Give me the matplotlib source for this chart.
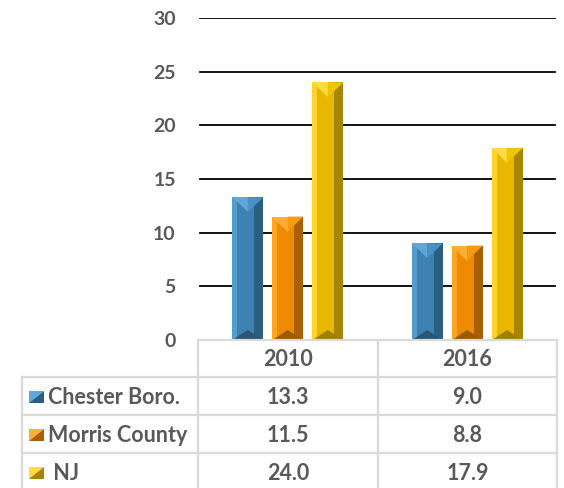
import numpy as np
import matplotlib
matplotlib.use('Agg')
from matplotlib import pyplot as plt
from matplotlib.patches import Polygon

#%% Data
years = ['2010', '2016']
series = ['Chester Boro.', 'Morris County', ' NJ']
chester = [13.3, 9.0]
morris = [11.5, 8.8]
nj = [24.0, 17.9]
yticks = [0, 5, 10, 15, 20, 25, 30]

#%% Style
# (main, left light, right dark, top-left, top-right, bottom)
PAL = [('#3d80b2', '#559cca', '#2b5e83', '#5ea7d8', '#4a90c2', '#2a5675'),
       ('#ee8b02', '#ffa521', '#a95f02', '#ffae35', '#f69b12', '#9c5a06'),
       ('#e8b700', '#ffd42b', '#a88500', '#ffda40', '#f1c500', '#a07f00')]
TXT = '#595959'
LINE = '#d9d9d9'
FONT = ['Lato', 'DejaVu Sans']
plt.rcParams['font.family'] = FONT

W, H = 564, 488
fig = plt.figure(figsize=(W / 100, H / 100), dpi=100)

# plot area in pixels
AX_L, AX_R, AX_B, AX_T = 198, 557, 340, 18
ax = fig.add_axes([AX_L / W, 1 - AX_B / H, (AX_R - AX_L) / W, (AX_B - AX_T) / H])
ax.set_xlim(-0.5, 1.5)
ax.set_ylim(0, 30)
for s in ax.spines.values():
    s.set_visible(False)
ax.set_xticks([])
ax.set_yticks(yticks)
ax.set_yticklabels([str(t) for t in yticks], fontsize=14, fontweight='bold', color=TXT)
ax.tick_params(axis='y', length=0, pad=16)
for t in yticks[1:]:
    ax.axhline(t, xmin=0.006, xmax=0.994, color='black', lw=1.3, zorder=1)

# px -> data factors
px_x = 2.0 / (AX_R - AX_L)
px_y = 30.0 / (AX_B - AX_T)

x = np.arange(len(years))
bw = 31 * px_x
off = 40 * px_x
for i, vals in enumerate([chester, morris, nj]):
    c = PAL[i]
    bars = ax.bar(x + (i - 1) * off, vals, bw, color=c[0], zorder=2, lw=0)
    for b in bars:
        L = b.get_x()
        R = L + b.get_width()
        C = (L + R) / 2
        T = b.get_height()
        B = 0
        tb = 15 * px_y
        bb = 10 * px_y
        polys = [
            ([(L, B), (L + 5 * px_x, B), (L + 5 * px_x, T), (L, T)], c[1]),
            ([(R - 9 * px_x, B), (R, B), (R, T), (R - 9 * px_x, T)], c[2]),
            ([(L, T), (C, T), (C, T - tb)], c[3]),
            ([(C, T), (R, T), (C, T - tb)], c[4]),
            ([(L, B), (R, B), (C, B + bb)], c[5]),
        ]
        for pts, col in polys:
            ax.add_patch(Polygon(pts, closed=True, fc=col, ec='none', zorder=3))

#%% Data table (drawn in pixel coordinates)
tab = fig.add_axes([0, 0, 1, 1])
tab.set_xlim(0, W)
tab.set_ylim(H, 0)
tab.axis('off')
tab.patch.set_alpha(0)

col_x = [22, 198, 378, 557]
row_y = [340, 377, 415, 453, 491]
lw = 1.6
tab.plot([col_x[1], col_x[3]], [row_y[0]] * 2, color=LINE, lw=lw)
for y in row_y[1:]:
    tab.plot([col_x[0], col_x[3]], [y, y], color=LINE, lw=lw)
tab.plot([col_x[0]] * 2, [row_y[1], row_y[-1]], color=LINE, lw=lw)
for cx in col_x[1:]:
    tab.plot([cx, cx], [row_y[0], row_y[-1]], color=LINE, lw=lw)

fs = 15.5
for j, yr in enumerate(years):
    tab.text((col_x[j + 1] + col_x[j + 2]) / 2, (row_y[0] + row_y[1]) / 2 + 1, yr,
             ha='center', va='center', fontsize=fs, fontweight='bold', color=TXT)

for i, (name, vals) in enumerate(zip(series, [chester, morris, nj])):
    yc = (row_y[i + 1] + row_y[i + 2]) / 2 + 1
    c = PAL[i]
    # legend key
    kx, ky, kw, kh = 29, yc - 6, 15, 12
    tab.add_patch(Polygon([(kx, ky), (kx + kw, ky), (kx, ky + kh)], fc=c[3], ec='none'))
    tab.add_patch(Polygon([(kx + kw, ky), (kx + kw, ky + kh), (kx, ky + kh)], fc=c[2], ec='none'))
    tab.text(48, yc, name, ha='left', va='center', fontsize=fs,
             fontweight='bold', color=TXT)
    for j, v in enumerate(vals):
        tab.text((col_x[j + 1] + col_x[j + 2]) / 2, yc, '%.1f' % v,
                 ha='center', va='center', fontsize=fs, fontweight='bold', color=TXT)

fig.savefig('out.png', dpi=100)
